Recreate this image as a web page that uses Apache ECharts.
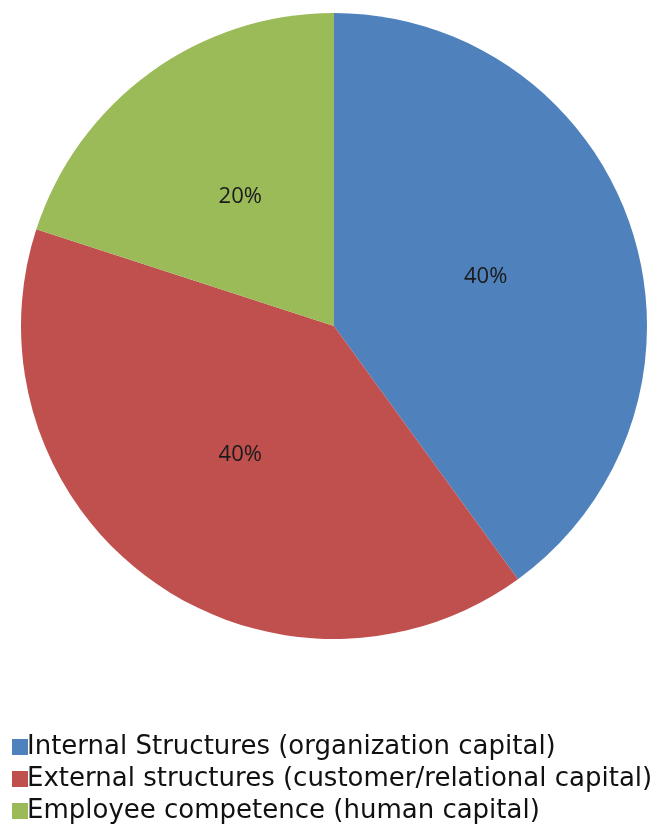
<!DOCTYPE html>
<html><head><meta charset="utf-8">
<script src="https://cdn.jsdelivr.net/npm/echarts@6/dist/echarts.min.js"></script>
<style>html,body{margin:0;padding:0;background:#fff}#c{width:661px;height:835px}</style>
</head><body><div id="c"></div>
<script>
const categories = ["Internal Structures (organization capital)", "External structures (customer/relational capital)", "Employee competence (human capital)"];
const values = [40, 40, 20];
const colors = ["#4F81BD", "#C0504D", "#9BBB59"];
const chart = echarts.init(document.getElementById('c'));
chart.setOption({
  animation: false,
  legend: {
    orient: 'vertical', left: 7, top: 729, height: 106,
    itemWidth: 16, itemHeight: 16, itemGap: 6, icon: 'rect',
    textStyle: { fontFamily: 'DejaVu Sans', fontSize: 26, color: '#111', padding: [0,0,0,-6] },
    data: categories
  },
  series: [{
    type: 'pie', center: [334, 326], radius: 313, startAngle: 90, clockwise: true,
    label: { position: 'inside', formatter: '{d}%', fontFamily: 'Open Sans', fontSize: 22, color: '#1a1a1a' },
    labelLine: { show: false },
    itemStyle: { borderWidth: 0 },
    emphasis: { disabled: true },
    data: categories.map((n, i) => ({ name: n, value: values[i], itemStyle: { color: colors[i] } }))
  }]
});
</script></body></html>
